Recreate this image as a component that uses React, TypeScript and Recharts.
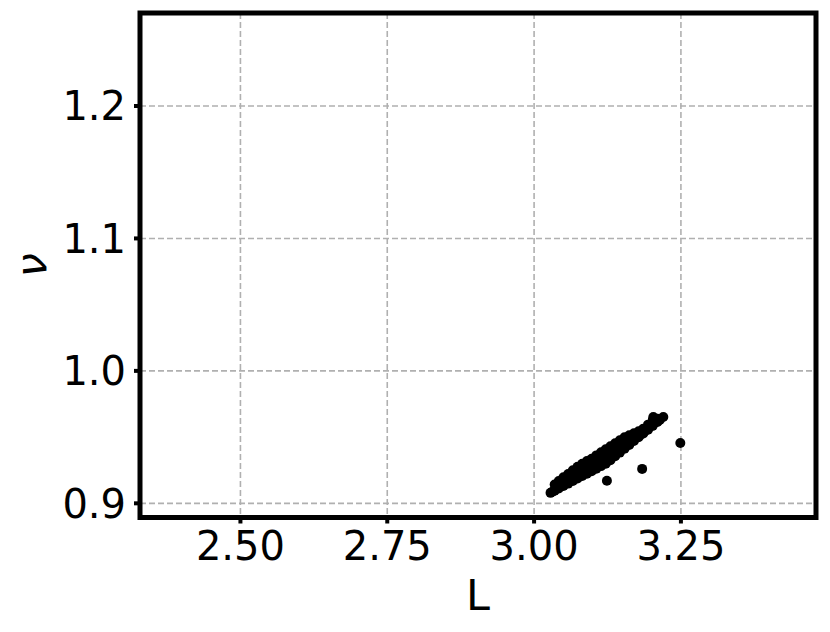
import { ScatterChart, Scatter, XAxis, YAxis, CartesianGrid, ReferenceArea } from 'recharts';

// L values (x) and nu values (y)
const bandL = [
  3.028, 3.031, 3.035, 3.035, 3.038, 3.042, 3.042, 3.046, 3.05, 3.05, 3.054, 3.058, 3.058, 3.062,
  3.066, 3.066, 3.07, 3.074, 3.074, 3.078, 3.082, 3.082, 3.086, 3.09, 3.09, 3.094, 3.098, 3.098,
  3.102, 3.106, 3.106, 3.11, 3.114, 3.114, 3.118, 3.122, 3.122, 3.126, 3.13, 3.13, 3.134, 3.138,
  3.138, 3.142, 3.146, 3.146, 3.15, 3.154, 3.154, 3.158, 3.162, 3.162, 3.166, 3.17, 3.17, 3.174,
  3.178, 3.178, 3.182, 3.186, 3.186, 3.19, 3.194, 3.194, 3.198, 3.202, 3.202, 3.206, 3.21, 3.21,
  3.214, 3.203, 3.22,
];
const bandV = [
  0.9079, 0.9088, 0.9095, 0.9142, 0.9112, 0.9112, 0.9168, 0.9135, 0.9131, 0.9196, 0.916, 0.9149, 0.9222, 0.918,
  0.9168, 0.925, 0.921, 0.9187, 0.9276, 0.923, 0.9206, 0.9298, 0.925, 0.9224, 0.932, 0.927, 0.9243, 0.9337,
  0.929, 0.9262, 0.9362, 0.931, 0.9281, 0.9386, 0.933, 0.9299, 0.9408, 0.935, 0.9325, 0.943, 0.938, 0.9355,
  0.9453, 0.941, 0.9383, 0.9476, 0.944, 0.9412, 0.9498, 0.946, 0.9441, 0.9514, 0.948, 0.947, 0.9529, 0.95,
  0.9499, 0.9544, 0.952, 0.9528, 0.9564, 0.955, 0.9556, 0.9594, 0.958, 0.9585, 0.9628, 0.961, 0.9614, 0.9638,
  0.963, 0.9652, 0.9652,
];
const outlierL = [3.124, 3.184, 3.249];
const outlierV = [0.917, 0.926, 0.9456];

const xTicks = [2.5, 2.75, 3.0, 3.25];
const yTicks = [0.9, 1.0, 1.1, 1.2];
const xDomain = [2.329, 3.48];
const yDomain = [0.8893, 1.2702];

const points = bandL.map((L, i) => ({ L, v: bandV[i] }))
  .concat(outlierL.map((L, i) => ({ L, v: outlierV[i] })));

const font = 'DejaVu Sans';

function NuLabel({ viewBox }: { viewBox?: { x: number; y: number; width: number; height: number } }) {
  if (!viewBox) return null;
  const cx = viewBox.x + 46;
  const cy = viewBox.y + viewBox.height / 2;
  return (
    <text x={cx} y={cy} transform={`rotate(-90 ${cx} ${cy})`} textAnchor="middle"
      fontFamily={font} fontSize={43} fontStyle="italic" fill="#000">
      ν
    </text>
  );
}

function Dot(props: { cx?: number; cy?: number }) {
  return <circle cx={props.cx} cy={props.cy} r={5} fill="#000" />;
}

export default function App() {
  return (
    <div style={{ position: 'absolute', left: 0, top: 0, width: 830, height: 632, background: '#fff' }}>
      <ScatterChart width={830} height={632} margin={{ top: 13, right: 14, left: 0, bottom: 0 }}>
        <CartesianGrid stroke="#b0b0b0" strokeWidth={1.6} strokeDasharray="6 3" />
        <XAxis
          type="number"
          dataKey="L"
          domain={xDomain}
          ticks={xTicks}
          allowDataOverflow
          height={114.5}
          axisLine={false}
          tickLine={{ stroke: '#000', strokeWidth: 4 }}
          tickSize={6}
          tickMargin={8}
          tick={{ fill: '#000', fontSize: 40, fontFamily: font }}
          tickFormatter={(t: number) => t.toFixed(2)}
          label={{ value: 'L', position: 'insideBottom', offset: 22, fill: '#000', fontSize: 43, fontFamily: font }}
        />
        <YAxis
          type="number"
          dataKey="v"
          domain={yDomain}
          ticks={yTicks}
          allowDataOverflow
          width={140}
          axisLine={false}
          tickLine={{ stroke: '#000', strokeWidth: 4 }}
          tickSize={6}
          tickMargin={8}
          tick={{ fill: '#000', fontSize: 40, fontFamily: font }}
          tickFormatter={(t: number) => t.toFixed(1)}
          label={<NuLabel />}
        />
        <Scatter data={points} fill="#000" shape={<Dot />} isAnimationActive={false} />
        <ReferenceArea
          x1={xDomain[0]} x2={xDomain[1]} y1={yDomain[0]} y2={yDomain[1]}
          fill="none" stroke="#000" strokeWidth={5} ifOverflow="visible"
        />
      </ScatterChart>
    </div>
  );
}
